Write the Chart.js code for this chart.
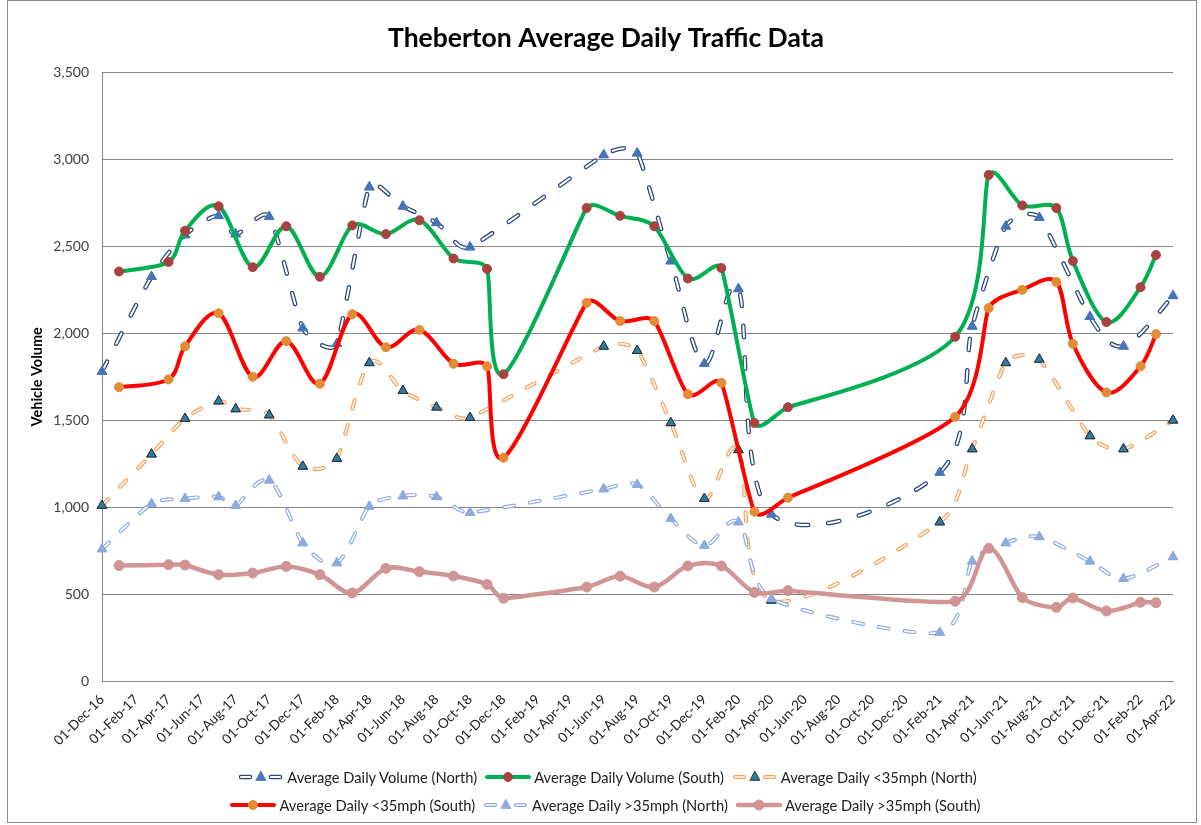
<!DOCTYPE html>
<html><head><meta charset="utf-8">
<script src="https://cdn.jsdelivr.net/npm/chart.js@4.4.1/dist/chart.umd.min.js"></script>
<style>
html,body{margin:0;padding:0;background:#fff;}
#wrap{position:relative;width:1201px;height:825px;overflow:hidden;background:#fff;}
#frame{position:absolute;left:7px;top:0px;width:1190px;height:823px;border:1px solid #8c8c8c;box-sizing:border-box;pointer-events:none;}
#chart{position:absolute;left:0;top:0;}
.legrow{position:absolute;left:0;width:1201px;height:20px;display:flex;justify-content:center;align-items:center;font-family:Lato,sans-serif;font-size:14.7px;color:#222;white-space:nowrap;}
.item{display:flex;align-items:center;margin:0 4px;}
.item canvas{margin-right:3px;}
</style></head>
<body>
<div id="wrap">
<canvas id="chart" width="1201" height="825"></canvas>
<div id="row1" class="legrow" style="top:767px;padding-left:14px;box-sizing:border-box;"></div>
<div id="row2" class="legrow" style="top:795px;padding-left:10px;box-sizing:border-box;"></div>
<div id="frame"></div>
</div>
<script>
// ---------- data ----------
const xTickLabels = ['01-Dec-16','01-Feb-17','01-Apr-17','01-Jun-17','01-Aug-17','01-Oct-17','01-Dec-17','01-Feb-18','01-Apr-18','01-Jun-18','01-Aug-18','01-Oct-18','01-Dec-18','01-Feb-19','01-Apr-19','01-Jun-19','01-Aug-19','01-Oct-19','01-Dec-19','01-Feb-20','01-Apr-20','01-Jun-20','01-Aug-20','01-Oct-20','01-Dec-20','01-Feb-21','01-Apr-21','01-Jun-21','01-Aug-21','01-Oct-21','01-Dec-21','01-Feb-22','01-Apr-22'];
const yTicks = [0,500,1000,1500,2000,2500,3000,3500];

const northDates = ['01-Dec-16','01-Mar-17','01-May-17','01-Jul-17','01-Aug-17','01-Oct-17','01-Dec-17','01-Feb-18','01-Apr-18','01-Jun-18','01-Aug-18','01-Oct-18','01-Jun-19','01-Aug-19','01-Oct-19','01-Dec-19','01-Feb-20','01-Apr-20','01-Feb-21','01-Apr-21','01-Jun-21','01-Aug-21','01-Nov-21','01-Jan-22','01-Apr-22'];
const volumeNorth  = [1780,2325,2565,2675,2570,2670,2030,1940,2840,2730,2635,2495,3025,3035,2415,1825,2255,960,1200,2040,2615,2665,2095,1925,2215];
const under35North = [1010,1305,1510,1610,1565,1530,1235,1280,1830,1670,1575,1515,1925,1900,1485,1050,1330,465,915,1335,1830,1850,1410,1335,1500];
const over35North  = [760,1020,1050,1060,1010,1155,795,680,1005,1065,1060,970,1105,1130,935,780,915,475,280,690,795,830,690,590,715];

const southDates = ['01-Jan-17','01-Apr-17','01-May-17','01-Jul-17','01-Sep-17','01-Nov-17','01-Jan-18','01-Mar-18','01-May-18','01-Jul-18','01-Sep-18','01-Nov-18','01-Dec-18','01-May-19','01-Jul-19','01-Sep-19','01-Nov-19','01-Jan-20','01-Mar-20','01-May-20','01-Mar-21','01-May-21','01-Jul-21','01-Sep-21','01-Oct-21','01-Dec-21','01-Feb-22','01-Mar-22'];
const volumeSouth  = [2355,2410,2590,2730,2380,2615,2325,2620,2570,2650,2430,2370,1765,2720,2675,2615,2315,2375,1485,1575,1980,2910,2735,2720,2415,2065,2265,2450];
const under35South = [1690,1735,1925,2115,1750,1955,1710,2110,1920,2020,1825,1810,1285,2175,2070,2070,1650,1715,975,1055,1520,2145,2250,2295,1940,1660,1810,1995];
const over35South  = [665,670,668,613,622,660,613,508,649,630,605,557,477,542,604,542,663,663,511,521,460,764,481,425,479,404,454,452];

const seriesNames = ['Average Daily Volume (North)','Average Daily Volume (South)','Average Daily <35mph (North)','Average Daily <35mph (South)','Average Daily >35mph (North)','Average Daily >35mph (South)'];

// ---------- helpers ----------
const MONTHS = {Jan:0,Feb:1,Mar:2,Apr:3,May:4,Jun:5,Jul:6,Aug:7,Sep:8,Oct:9,Nov:10,Dec:11};
const ORIGIN = Date.UTC(2016,11,1);
function dayOf(s){ const p = s.split('-'); return (Date.UTC(2000 + (+p[2]), MONTHS[p[1]], +p[0]) - ORIGIN) / 86400000; }
const xTickDays = xTickLabels.map(dayOf);
const labelByDay = {}; xTickDays.forEach((d,i)=>{ labelByDay[d] = xTickLabels[i]; });
function pts(dates, vals){ return dates.map((d,i)=>({x: dayOf(d), y: vals[i]})); }
function fmt(v){ return String(v).replace(/\B(?=(\d{3})+(?!\d))/g, ','); }

const styles = [
  {kind:'hollow', color:'#2A4778', width:4.5, inner:2, dash:[11.5,20], marker:'triangle', mfill:'#4774B8', mborder:'#4774B8', r:5.5},
  {kind:'solid', color:'#00B050', width:4, marker:'circle', mfill:'#A8423F', mborder:'#A8423F', r:4.5},
  {kind:'hollow', color:'#F8A055', width:4, inner:1.6, dash:[9,17], marker:'triangle', mfill:'#2F7E98', mborder:'#27304F', r:5.5},
  {kind:'solid', color:'#FF0000', width:4, marker:'circle', mfill:'#E38B35', mborder:'#E38B35', r:4.5},
  {kind:'hollow', color:'#8FAADC', width:4, inner:1.6, dash:[10,16], marker:'triangle', mfill:'#8FAADC', mborder:'#8FAADC', r:5.5},
  {kind:'solid', color:'#D09696', width:4.5, marker:'circle', mfill:'#D09494', mborder:'#D09494', r:5}
];
const seriesData = [pts(northDates,volumeNorth), pts(southDates,volumeSouth), pts(northDates,under35North), pts(southDates,under35South), pts(northDates,over35North), pts(southDates,over35South)];

const datasets = seriesData.map((data,i)=>{
  const s = styles[i];
  return {
    label: seriesNames[i], data,
    borderColor: s.color, borderWidth: s.width,
    borderDash: s.kind==='hollow' ? s.dash : [],
    borderCapStyle: 'round', borderJoinStyle: 'round',
    hollowColor: s.kind==='hollow' ? '#ffffff' : null, innerWidth: s.inner,
    tension: 0.4, fill: false, clip: false,
    pointStyle: s.marker, pointRadius: s.r, pointBackgroundColor: s.mfill,
    pointBorderColor: s.mborder, pointBorderWidth: 1,
    order: 6 - i
  };
});

// Excel-like smoothing: Catmull-Rom tangents, limited by neighbouring segment lengths
const excelSmooth = {
  id: 'excelSmooth',
  beforeDatasetDraw(chart, args){
    const meta = args.meta;
    if (!meta.dataset || !meta.dataset.updateControlPoints) return;
    meta.dataset.updateControlPoints(chart.chartArea, meta.iAxis);
    const p = meta.data, n = p.length;
    const dist = (a,b) => Math.hypot(b.x-a.x, b.y-a.y);
    for (let i=0;i<n;i++){
      const prev = p[Math.max(0,i-1)], next = p[Math.min(n-1,i+1)];
      let tx = (next.x - prev.x)/6, ty = (next.y - prev.y)/6;
      const len = Math.hypot(tx,ty);
      const dPrev = i>0 ? dist(prev,p[i]) : Infinity, dNext = i<n-1 ? dist(p[i],next) : Infinity;
      const lim = Math.min(dPrev, dNext)/3;
      if (len > lim && len > 0){ tx *= lim/len; ty *= lim/len; }
      p[i].cp1x = p[i].x - tx; p[i].cp1y = p[i].y - ty;
      p[i].cp2x = p[i].x + tx; p[i].cp2y = p[i].y + ty;
    }
  }
};
// hollow (compound) dashed lines
const hollow = {
  id: 'hollow',
  afterDatasetDraw(chart, args){
    const ds = chart.data.datasets[args.index];
    if (!ds.hollowColor) return;
    const meta = args.meta, ctx = chart.ctx;
    ctx.save();
    ctx.beginPath();
    meta.dataset.path(ctx);
    ctx.lineWidth = ds.innerWidth;
    ctx.strokeStyle = ds.hollowColor;
    ctx.setLineDash(ds.borderDash);
    ctx.lineDashOffset = 0;
    ctx.lineCap = 'round'; ctx.lineJoin = 'round';
    ctx.stroke();
    ctx.restore();
    meta.data.forEach(pt => pt.draw(ctx, chart.chartArea));
  }
};
// centre the title like the reference (slightly right of canvas centre)
const titleShift = {
  id: 'titleShift',
  afterLayout(chart){
    const tb = chart.titleBlock;
    if (tb){ tb.left = 39; tb.width = tb.right - tb.left; }
  }
};

new Chart(document.getElementById('chart').getContext('2d'), {
  type: 'line',
  data: { datasets },
  options: {
    responsive: false, animation: false, devicePixelRatio: 1,
    layout: { padding: { left: 10, right: 28, top: 0, bottom: 0 } },
    plugins: {
      legend: { display: false },
      tooltip: { enabled: false },
      title: { display: true, text: 'Theberton Average Daily Traffic Data', color: '#000',
               font: { family: 'Lato', size: 26.5, weight: 'bold' }, padding: { top: 22.5, bottom: 18 } }
    },
    scales: {
      x: {
        type: 'linear', min: xTickDays[0], max: xTickDays[xTickDays.length-1],
        afterBuildTicks: (scale) => { scale.ticks = xTickDays.map(v => ({ value: v })); },
        afterFit: (scale) => { scale.height = 143.7; },
        ticks: { autoSkip: false, minRotation: 45, maxRotation: 45, color: '#222', padding: 2,
                 font: { family: 'Lato', size: 13.5 }, callback: (v) => labelByDay[v] || '' },
        grid: { display: false },
        border: { display: true, color: '#868686', width: 1 }
      },
      y: {
        min: 0, max: 3500,
        afterBuildTicks: (scale) => { scale.ticks = yTicks.map(v => ({ value: v })); },
        afterFit: (scale) => { scale.width = 92; },
        ticks: { color: '#404040', padding: 13, font: { family: 'Lato', size: 14 }, callback: (v) => fmt(v) },
        grid: { color: '#868686', lineWidth: 1, drawTicks: false },
        border: { display: true, color: '#868686', width: 1 },
        title: { display: true, text: 'Vehicle Volume', color: '#000', font: { family: 'Lato', size: 14.5, weight: 'bold' },
                 padding: { top: 19, bottom: 0 } }
      }
    }
  },
  plugins: [excelSmooth, hollow, titleShift]
});

// ---------- legend ----------
function icon(s){
  const c = document.createElement('canvas'); c.width = 46; c.height = 16;
  const g = c.getContext('2d'); const cy = 8;
  g.lineCap = 'round';
  if (s.kind === 'hollow'){
    [[3,12],[33,42]].forEach(([a,b])=>{
      g.beginPath(); g.moveTo(a,cy); g.lineTo(b,cy); g.strokeStyle = s.color; g.lineWidth = s.width; g.stroke();
      g.beginPath(); g.moveTo(a,cy); g.lineTo(b,cy); g.strokeStyle = '#fff'; g.lineWidth = s.inner; g.stroke();
    });
  } else {
    g.beginPath(); g.moveTo(2,cy); g.lineTo(44,cy); g.strokeStyle = s.color; g.lineWidth = s.width; g.stroke();
  }
  g.fillStyle = s.mfill; g.strokeStyle = s.mborder; g.lineWidth = 1;
  g.beginPath();
  if (s.marker === 'triangle'){ const r = s.r; g.moveTo(23, cy - r); g.lineTo(23 + r*0.87, cy + r*0.6); g.lineTo(23 - r*0.87, cy + r*0.6); g.closePath(); }
  else { g.arc(23, cy, s.r, 0, Math.PI*2); }
  g.fill(); g.stroke();
  return c;
}
seriesNames.forEach((name,i)=>{
  const row = document.getElementById(i < 3 ? 'row1' : 'row2');
  const it = document.createElement('div'); it.className = 'item';
  it.appendChild(icon(styles[i]));
  const sp = document.createElement('span'); sp.textContent = name; it.appendChild(sp);
  row.appendChild(it);
});
</script>
</body></html>
